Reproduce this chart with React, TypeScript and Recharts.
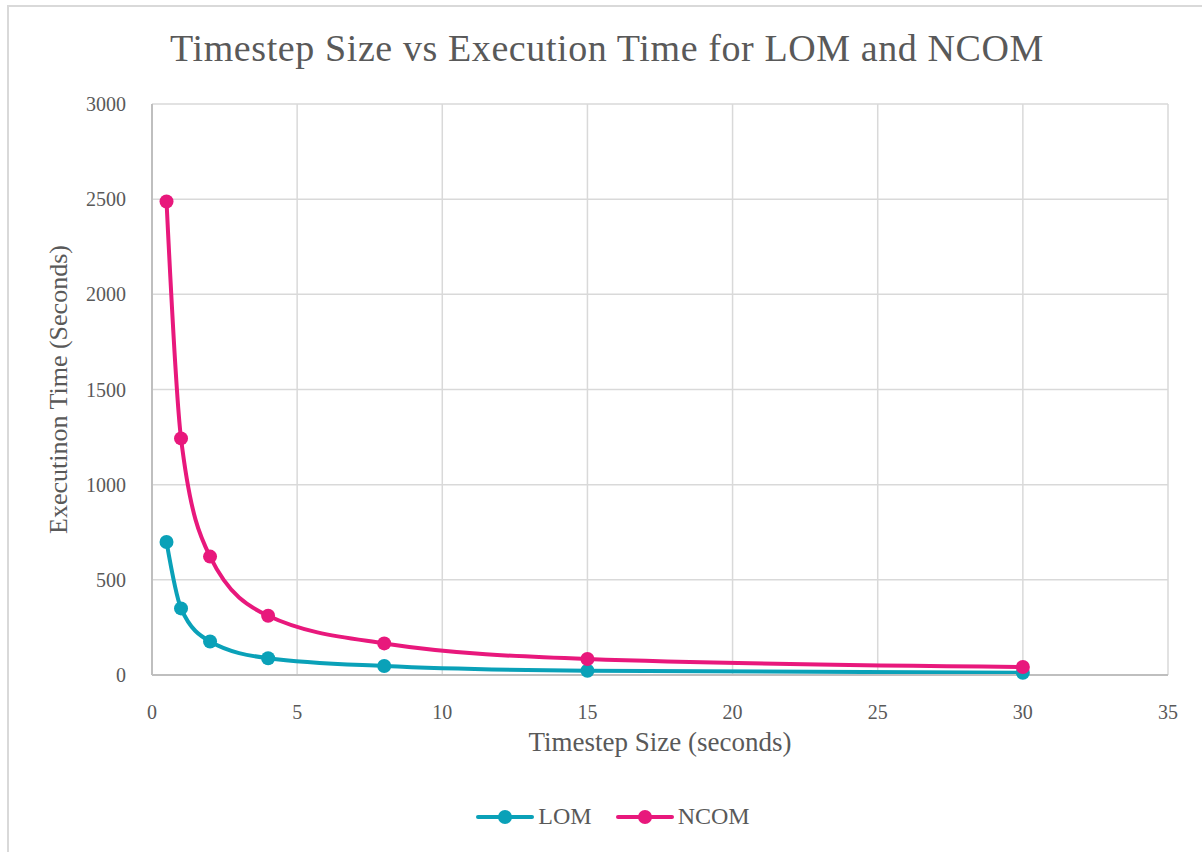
import { LineChart, Line, XAxis, YAxis, CartesianGrid, Legend, Label } from 'recharts';

const timesteps = [0.5, 1, 2, 4, 8, 15, 30];
const lomSeconds = [699, 350, 176, 88, 47, 22, 12];
const ncomSeconds = [2488, 1243, 622, 311, 166, 84, 42];

const xTicks = [0, 5, 10, 15, 20, 25, 30, 35];
const yTicks = [0, 500, 1000, 1500, 2000, 2500, 3000];

const LOM_COLOR = '#0aa1b8';
const NCOM_COLOR = '#e8187c';
const TEXT_COLOR = '#595959';
const FONT = '"Liberation Serif", "DejaVu Serif", serif';

const data = timesteps.map((t, i) => ({ t, lom: lomSeconds[i], ncom: ncomSeconds[i] }));

const LegendItems = () => (
  <div style={{ display: 'flex', justifyContent: 'center', gap: 24, fontFamily: FONT, color: TEXT_COLOR, fontSize: 24, paddingLeft: 58 }}>
    {[
      { name: 'LOM', color: LOM_COLOR },
      { name: 'NCOM', color: NCOM_COLOR },
    ].map((s) => (
      <div key={s.name} style={{ display: 'flex', alignItems: 'center', gap: 4 }}>
        <svg width={58} height={16}>
          <line x1={2} y1={8} x2={56} y2={8} stroke={s.color} strokeWidth={4} strokeLinecap="round" />
          <circle cx={29} cy={8} r={7} fill={s.color} />
        </svg>
        <span>{s.name}</span>
      </div>
    ))}
  </div>
);

export default function App() {
  return (
    <div style={{ position: 'absolute', left: 0, top: 0, width: 1202, height: 852, background: '#fff', overflow: 'hidden' }}>
      {/* chart frame */}
      <div style={{ position: 'absolute', left: 7, top: 5, width: 1220, height: 900, border: '2px solid #d9d9d9' }} />
      <div
        style={{
          position: 'absolute',
          left: 0,
          top: 26,
          width: 1214,
          textAlign: 'center',
          fontFamily: FONT,
          fontSize: 38,
          color: TEXT_COLOR,
          letterSpacing: 0.6,
        }}
      >
        Timestep Size vs Execution Time for LOM and NCOM
      </div>
      <div style={{ position: 'absolute', left: 0, top: 0 }}>
        <LineChart width={1202} height={852} data={data} margin={{ top: 104, right: 34, bottom: 50, left: 0 }}>
          <CartesianGrid stroke="#d9d9d9" strokeWidth={1.5} />
          <XAxis
            type="number"
            dataKey="t"
            domain={[0, 35]}
            ticks={xTicks}
            tickLine={false}
            axisLine={{ stroke: '#bfbfbf', strokeWidth: 2 }}
            tick={{ fill: TEXT_COLOR, fontFamily: FONT, fontSize: 20 }}
            tickMargin={24}
            height={100}
          >
            <Label value="Timestep Size (seconds)" position="insideTop" offset={57} fill={TEXT_COLOR} fontFamily={FONT} fontSize={27} />
          </XAxis>
          <YAxis
            type="number"
            domain={[0, 3000]}
            ticks={yTicks}
            tickLine={false}
            axisLine={{ stroke: '#bfbfbf', strokeWidth: 2 }}
            tick={{ fill: TEXT_COLOR, fontFamily: FONT, fontSize: 20 }}
            tickMargin={20}
            width={152}
          >
            <Label
              value="Executinon Time (Seconds)"
              angle={-90}
              position="insideLeft"
              offset={58}
              style={{ textAnchor: 'middle' }}
              fill={TEXT_COLOR}
              fontFamily={FONT}
              fontSize={26}
            />
          </YAxis>
          <Legend verticalAlign="bottom" align="center" wrapperStyle={{ bottom: 22 }} content={<LegendItems />} />
          <Line
            type="monotone"
            dataKey="lom"
            name="LOM"
            stroke={LOM_COLOR}
            strokeWidth={4}
            dot={{ r: 7, fill: LOM_COLOR, stroke: LOM_COLOR, strokeWidth: 0 }}
            activeDot={false}
            isAnimationActive={false}
          />
          <Line
            type="monotone"
            dataKey="ncom"
            name="NCOM"
            stroke={NCOM_COLOR}
            strokeWidth={4}
            dot={{ r: 7, fill: NCOM_COLOR, stroke: NCOM_COLOR, strokeWidth: 0 }}
            activeDot={false}
            isAnimationActive={false}
          />
        </LineChart>
      </div>
    </div>
  );
}
